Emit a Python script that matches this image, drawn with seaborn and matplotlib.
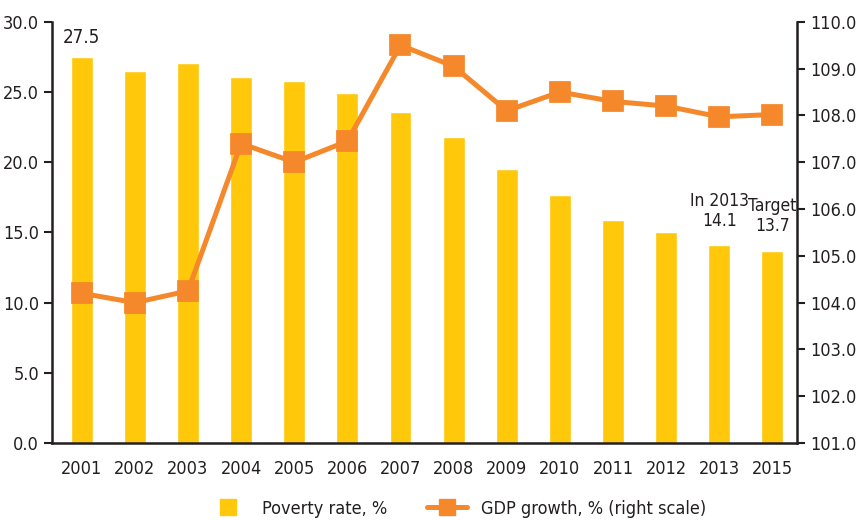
import numpy as np
import matplotlib
matplotlib.use("Agg")
import matplotlib.pyplot as plt
import pandas as pd
import seaborn as sns
from matplotlib.lines import Line2D

sns.set_theme(style="white")
plt.rcParams['font.family'] = ['DejaVu Sans']
plt.rcParams['font.stretch'] = 'condensed'

# data
years = ["2001", "2002", "2003", "2004", "2005", "2006", "2007",
         "2008", "2009", "2010", "2011", "2012", "2013", "2015"]
poverty = [27.5, 26.5, 27.1, 26.1, 25.8, 24.9, 23.6,
           21.8, 19.5, 17.7, 15.9, 15.0, 14.1, 13.7]
gdp = [104.2, 104.0, 104.25, 107.4, 107.0, 107.45, 109.5,
       109.05, 108.1, 108.5, 108.3, 108.2, 107.97, 108.02]
bar_notes = {"2001": "27.5", "2013": "In 2013\n14.1", "2015": "Target\n13.7"}

bar_col = "#FFC80A"
line_col = "#F5882A"
txt_col = "#231F20"

df = pd.DataFrame({"year": years, "poverty": poverty, "gdp": gdp})

fig, ax = plt.subplots(figsize=(8.62, 5.2), dpi=100)
fig.subplots_adjust(left=0.06, right=0.925, top=0.958, bottom=0.148)

sns.barplot(data=df, x="year", y="poverty", color=bar_col, width=0.41,
            saturation=1, ax=ax, zorder=1)
ax.set_ylim(0, 30)
ax.set_yticks(np.arange(0, 30.1, 5))
ax.set_yticklabels([f"{v:.1f}" for v in np.arange(0, 30.1, 5)])
ax.set_xlim(-0.565, 13.47)
ax.set_xlabel("")
ax.set_ylabel("")

for i, y in enumerate(years):
    if y in bar_notes:
        multi = "\n" in bar_notes[y]
        ax.annotate(bar_notes[y], (i, poverty[i]), xytext=(0, 11 if multi else 7),
                    textcoords="offset points", ha="center", va="bottom",
                    fontsize=12.5 if multi else 13.5, color=txt_col,
                    linespacing=1.15)

ax2 = ax.twinx()
sns.pointplot(data=df, x="year", y="gdp", color=line_col, markers="s",
              linestyles="-", ax=ax2, markersize=12.5, linewidth=3.6, zorder=3)
ax2.set_ylim(101, 110)
ax2.set_yticks(np.arange(101, 110.1, 1))
ax2.set_yticklabels([f"{v:.1f}" for v in np.arange(101, 110.1, 1)])
ax2.set_xlim(-0.565, 13.47)
ax2.set_ylabel("")
ax2.set_xlabel("")

for a in (ax, ax2):
    for s in a.spines.values():
        s.set_visible(False)
    a.grid(False)
ax.spines["left"].set_visible(True)
ax.spines["bottom"].set_visible(True)
ax2.spines["right"].set_visible(True)
for sp in (ax.spines["left"], ax.spines["bottom"], ax2.spines["right"]):
    sp.set_color(txt_col)
    sp.set_linewidth(1.8)

ax.tick_params(axis="y", left=True, length=6, width=1.5, color=txt_col,
               labelsize=13, labelcolor=txt_col, pad=3)
ax.tick_params(axis="x", bottom=False, labelsize=13, labelcolor=txt_col, pad=6)
ax2.tick_params(axis="y", right=True, length=6, width=1.5, color=txt_col,
                labelsize=13, labelcolor=txt_col, pad=3)

handles = [Line2D([], [], color=bar_col, marker="s", markersize=12, linestyle="none",
                  label="Poverty rate, %"),
           Line2D([], [], color=line_col, marker="s", markersize=12, linewidth=3.6,
                  label="GDP growth, % (right scale)")]
fig.legend(handles=handles, loc="lower center", bbox_to_anchor=(0.53, -0.027),
           ncol=2, frameon=False, fontsize=13, handlelength=2.2,
           columnspacing=2.2, labelcolor=txt_col)

fig.savefig("out.png", dpi=100)
